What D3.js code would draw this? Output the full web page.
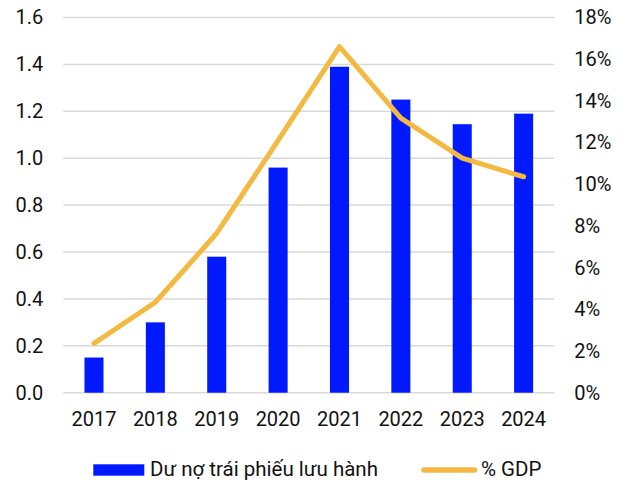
<!DOCTYPE html>
<html><head><meta charset="utf-8">
<script src="https://cdn.jsdelivr.net/npm/d3@7"></script>
<style>body{margin:0;background:#fff;} svg{display:block;font-family:Roboto, "Noto Sans", sans-serif;}</style>
</head><body>
<svg id="c" width="629" height="483"></svg>
<script>
const years = ["2017","2018","2019","2020","2021","2022","2023","2024"];
const bondValues = [0.15, 0.30, 0.58, 0.96, 1.39, 1.25, 1.145, 1.19];
const gdpPct = [2.37, 4.34, 7.65, 12.1, 16.6, 13.17, 11.25, 10.36];
const leftTicks = [0, 0.2, 0.4, 0.6, 0.8, 1.0, 1.2, 1.4, 1.6];
const rightTicks = [0, 2, 4, 6, 8, 10, 12, 14, 16, 18];
const seriesNames = ["Dư nợ trái phiếu lưu hành", "% GDP"];

const svg = d3.select("#c");
const m = {l: 63.3, r: 554.3, t: 17.5, b: 392.7};
const barColor = "#0019ff", lineColor = "#f4b942";

const x = d3.scaleBand().domain(years).range([m.l, m.r]).paddingInner(0.69).paddingOuter(0.345);
const yL = d3.scaleLinear().domain([0, 1.6]).range([m.b, m.t]);
const yR = d3.scaleLinear().domain([0, 18]).range([m.b, m.t]);

// gridlines
svg.append("g").selectAll("line").data(leftTicks).join("line")
  .attr("x1", m.l).attr("x2", m.r)
  .attr("y1", d => yL(d)).attr("y2", d => yL(d))
  .attr("stroke", "#d9d9d9").attr("stroke-width", 1.5);

// left axis
const axL = svg.append("g").attr("transform", `translate(${m.l - 20},0)`)
  .call(d3.axisLeft(yL).tickValues(leftTicks).tickFormat(d3.format(".1f")).tickSize(0).tickPadding(0));
axL.select(".domain").remove();
axL.selectAll("text").attr("font-size", 20).attr("fill", "#111").attr("font-family", "Roboto");

// right axis
const axR = svg.append("g").attr("transform", `translate(${m.r + 20},0)`)
  .call(d3.axisRight(yR).tickValues(rightTicks).tickFormat(d => d + "%").tickSize(0).tickPadding(0));
axR.select(".domain").remove();
axR.selectAll("text").attr("font-size", 20).attr("fill", "#111").attr("font-family", "Roboto");

// bottom axis
const axB = svg.append("g").attr("transform", `translate(0,${m.b})`)
  .call(d3.axisBottom(x).tickSize(0).tickPadding(19));
axB.select(".domain").remove();
axB.selectAll("text").attr("font-size", 20).attr("fill", "#111").attr("font-family", "Roboto");

// bars
svg.append("g").selectAll("rect").data(years).join("rect")
  .attr("x", d => x(d)).attr("width", x.bandwidth())
  .attr("y", (d, i) => yL(bondValues[i]))
  .attr("height", (d, i) => yL(0) - yL(bondValues[i]))
  .attr("fill", barColor);

// line
const line = d3.line().x((d, i) => x(years[i]) + x.bandwidth() / 2).y(d => yR(d));
svg.append("path").datum(gdpPct).attr("d", line)
  .attr("fill", "none").attr("stroke", lineColor).attr("stroke-width", 5)
  .attr("stroke-linecap", "round").attr("stroke-linejoin", "round");

// legend
const lg = svg.append("g").attr("font-size", 20.5).attr("fill", "#111");
lg.append("rect").attr("x", 93.3).attr("y", 464.3).attr("width", 51).attr("height", 11.4).attr("fill", barColor);
lg.append("text").attr("x", 150).attr("y", 475.5).text(seriesNames[0]);
lg.append("line").attr("x1", 424).attr("x2", 474.5).attr("y1", 470).attr("y2", 470)
  .attr("stroke", lineColor).attr("stroke-width", 5.5).attr("stroke-linecap", "round");
lg.append("text").attr("x", 481).attr("y", 475.5).text(seriesNames[1]);
</script>
</body></html>
